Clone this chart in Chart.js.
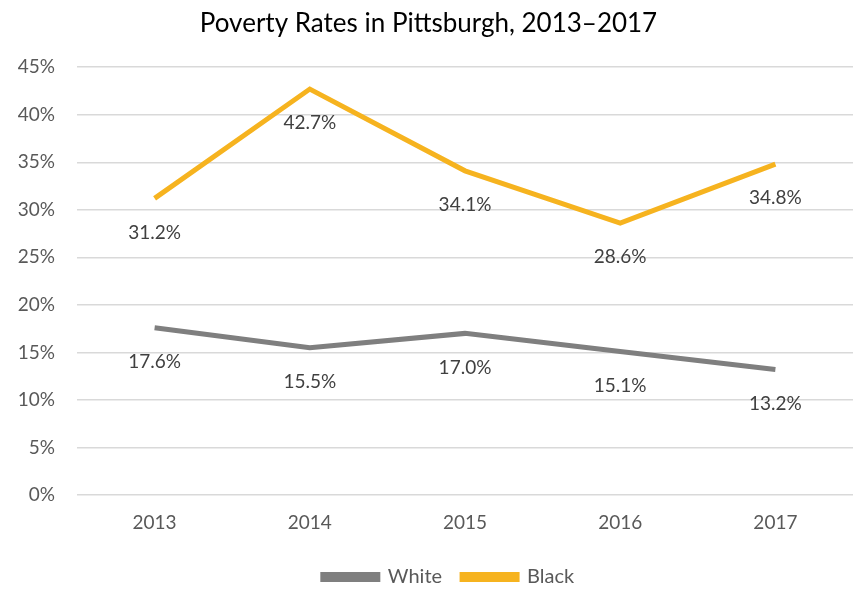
<!DOCTYPE html>
<html>
<head>
<meta charset="utf-8">
<script src="https://cdn.jsdelivr.net/npm/chart.js@4"></script>
<style>
  html, body { margin: 0; padding: 0; background: #fff; }
  #wrap { width: 853px; height: 589px; }
</style>
</head>
<body>
<div id="wrap"><canvas id="povertyChart" width="853" height="589"></canvas></div>
<script>
// Data
const years = ['2013', '2014', '2015', '2016', '2017'];
const whiteRates = [17.6, 15.5, 17.0, 15.1, 13.2];
const blackRates = [31.2, 42.7, 34.1, 28.6, 34.8];

const fontFamily = 'Lato, "Open Sans", sans-serif';

// draws the value label under each point
const pointLabels = {
    id: 'pointLabels',
    afterDatasetsDraw(chart) {
        const ctx = chart.ctx;
        ctx.save();
        ctx.font = '19px ' + fontFamily;
        ctx.fillStyle = '#404040';
        ctx.textAlign = 'center';
        ctx.textBaseline = 'middle';
        chart.data.datasets.forEach((ds, i) => {
            chart.getDatasetMeta(i).data.forEach((pt, j) => {
                ctx.fillText(ds.data[j].toFixed(1) + '%', pt.x, pt.y + 34);
            });
        });
        ctx.restore();
    },
};

// legend sits a bit right of centre in the original
const nudgeLegend = {
    id: 'nudgeLegend',
    afterLayout(chart) {
        if (chart.legend) {
            chart.legend.left += 20;
            chart.legend.right += 20;
        }
    },
};

const ctx = document.getElementById('povertyChart').getContext('2d');

new Chart(ctx, {
    type: 'line',
    data: {
        labels: years,
        datasets: [
            {
                label: 'White',
                data: whiteRates,
                borderColor: '#7f7f7f',
                backgroundColor: '#7f7f7f',
                borderWidth: 5,
                pointRadius: 0,
                tension: 0,
            },
            {
                label: 'Black',
                data: blackRates,
                borderColor: '#f6b31f',
                backgroundColor: '#f6b31f',
                borderWidth: 5,
                pointRadius: 0,
                tension: 0,
            },
        ],
    },
    options: {
        responsive: false,
        animation: false,
        layout: { padding: { left: 0, right: -4, top: 2, bottom: -8 } },
        plugins: {
            title: {
                display: true,
                text: 'Poverty Rates in Pittsburgh, 2013–2017',
                color: '#000',
                font: { family: fontFamily, size: 26, weight: 'normal' },
                padding: { top: 6, bottom: 28 },
            },
            legend: {
                position: 'bottom',
                labels: {
                    color: '#595959',
                    font: { family: fontFamily, size: 20 },
                    boxWidth: 55,
                    boxHeight: 5,
                    padding: 20,
                },
            },
            tooltip: { enabled: false },
        },
        scales: {
            x: {
                offset: true,
                afterFit(scale) { scale.height = 52; },
                grid: { display: false },
                border: { display: false },
                ticks: {
                    color: '#595959',
                    font: { family: fontFamily, size: 19 },
                    padding: 8,
                },
            },
            y: {
                min: 0,
                max: 45,
                afterFit(scale) { scale.width = 77; },
                grid: { color: '#d9d9d9', lineWidth: 1.5, drawTicks: false },
                border: { display: false },
                ticks: {
                    stepSize: 5,
                    color: '#595959',
                    font: { family: fontFamily, size: 19 },
                    padding: 22,
                    callback: v => v + '%',
                },
            },
        },
    },
    plugins: [pointLabels, nudgeLegend],
});
</script>
</body>
</html>
